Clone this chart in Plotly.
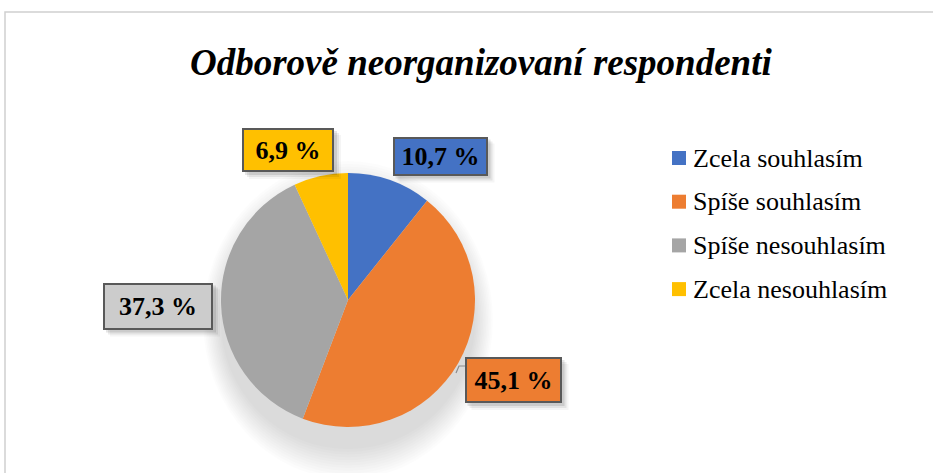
import plotly.graph_objects as go

W, H = 933, 473

LABELS = ["Zcela souhlasím", "Spíše souhlasím", "Spíše nesouhlasím", "Zcela nesouhlasím"]
VALUES = [10.7, 45.1, 37.3, 6.9]
COLORS = ["#4472C4", "#ED7D31", "#A5A5A5", "#FFC000"]
BOX_FILLS = ["#4472C4", "#ED7D31", "#CCCCCC", "#FFC000"]
TITLE = "Odborově neorganizovaní respondenti"

SERIF = "Liberation Serif"

# pie geometry in pixels (y down)
CX, CY, R = 348, 300, 127
# label boxes: centre x, centre y, width, height (pixels)
BOXES = [(440, 156, 95, 39), (513, 380, 97, 46), (158, 306, 110, 47), (288, 150, 92, 44)]

fig = go.Figure()

fig.add_trace(go.Pie(
    labels=LABELS, values=VALUES,
    marker=dict(colors=COLORS, line=dict(width=0)),
    sort=False, direction="clockwise", rotation=0,
    textinfo="none", hoverinfo="label+percent",
    showlegend=False,
    domain=dict(x=[(CX - R) / W, (CX + R) / W],
                y=[(H - CY - R) / H, (H - CY + R) / H]),
))

shapes = []
# soft shadow under the pie
for i in range(12):
    rx = R + 18 - i * 1.6
    ry = R + 32 - i * 2.7
    shapes.append(dict(type="circle", layer="below", xref="x", yref="y",
                       x0=CX - rx, x1=CX + rx, y0=CY + 20 - ry, y1=CY + 20 + ry,
                       line=dict(width=0), fillcolor="rgba(0,0,0,0.013)"))

# chart frame
shapes.append(dict(type="rect", xref="x", yref="y", x0=5, y0=12, x1=W + 20, y1=H + 20,
                   line=dict(color="#D0D0D0", width=1.5), layer="below"))

# leader line for the big slice
shapes.append(dict(type="path", xref="x", yref="y", path="M 456 373 L 459 366 L 466 366",
                   line=dict(color="#8C8C8C", width=1.2)))

annotations = []
for (bx, by, bw, bh), v, fill in zip(BOXES, VALUES, BOX_FILLS):
    txt = f"{v:.1f} %".replace(".", ",")
    # box shadow
    for k, a in enumerate([0.10, 0.07, 0.04]):
        off = 3 + k * 2
        shapes.append(dict(type="rect", xref="x", yref="y",
                           x0=bx - bw / 2 + off, x1=bx + bw / 2 + off,
                           y0=by - bh / 2 + off, y1=by + bh / 2 + off,
                           line=dict(width=0), fillcolor=f"rgba(0,0,0,{a})", layer="above"))
    annotations.append(dict(
        x=bx, y=by, xref="x", yref="y", text=f"<b>{txt}</b>", showarrow=False,
        font=dict(family=SERIF, size=26, color="black"),
        bgcolor=fill, bordercolor="#595959", borderwidth=2, borderpad=2,
        width=bw - 8, height=bh - 8, align="center", valign="middle",
        xanchor="center", yanchor="middle",
    ))

# legend drawn from the series lists
LEG_X, LEG_Y0, LEG_DY = 672, 158, 43.7
for i, (lab, col) in enumerate(zip(LABELS, COLORS)):
    y = LEG_Y0 + i * LEG_DY
    shapes.append(dict(type="rect", xref="x", yref="y", x0=LEG_X, x1=LEG_X + 14,
                       y0=y - 7, y1=y + 7, line=dict(width=0), fillcolor=col))
    annotations.append(dict(x=LEG_X + 19, y=y, xref="x", yref="y", text=lab, showarrow=False,
                            xanchor="left", yanchor="middle",
                            font=dict(family=SERIF, size=26, color="black")))

annotations.append(dict(x=481, y=62, xref="x", yref="y", text=f"<b><i>{TITLE}</i></b>",
                        showarrow=False, xanchor="center", yanchor="middle",
                        font=dict(family=SERIF, size=37, color="black")))

fig.update_layout(
    width=W, height=H,
    margin=dict(l=0, r=0, t=0, b=0),
    paper_bgcolor="white", plot_bgcolor="white",
    font=dict(family=SERIF),
    xaxis=dict(range=[0, W], visible=False, fixedrange=True),
    yaxis=dict(range=[H, 0], visible=False, fixedrange=True),
    shapes=shapes, annotations=annotations,
    showlegend=False,
)

fig.write_html("out.html", config={"displayModeBar": False},
               post_script="document.body.style.margin='0';")
